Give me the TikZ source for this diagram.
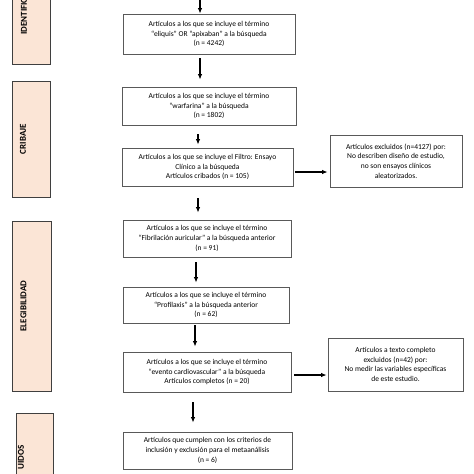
\documentclass[tikz,border=0pt]{standalone}
\usepackage{fontspec}
\setmainfont{Carlito}
\usetikzlibrary{arrows.meta}
\definecolor{phasefill}{HTML}{FBE5D6}
\definecolor{phaseline}{HTML}{3F3F3F}
\definecolor{boxline}{HTML}{595959}
\begin{document}
\begin{tikzpicture}[x=1pt,y=-1pt,
  phase/.style={draw=phaseline,line width=0.9pt,fill=phasefill,inner sep=0pt,anchor=north west},
  phasetext/.style={rotate=90,font=\fontsize{9}{10}\selectfont\bfseries,inner sep=0pt},
  mainbox/.style={draw=boxline,line width=0.8pt,fill=white,align=center,inner sep=0pt,
    font=\fontsize{7.5}{9.6}\selectfont},
  arr/.style={line width=1.3pt,-{Latex[length=5.5pt,width=4.5pt]}}]
\useasboundingbox (0,0) rectangle (474,474);
\clip (0,0) rectangle (474,474);
% phase boxes
\node[phase,minimum width=38pt,minimum height=104pt] (pid) at (12,-40) {};
\node[phasetext,anchor=west] (tid) at (24,35) {IDENTIFIC};
\node[phase,minimum width=38pt,minimum height=116pt] (pcr) at (12,81) {};
\node[phasetext] (tcr) at (23,139) {CRIBAJE};
\node[phase,minimum width=39pt,minimum height=170pt] (pel) at (12,221) {};
\node[phasetext] (tel) at (23.5,306) {ELEGIBILIDAD};
\node[phase,minimum width=37pt,minimum height=90pt] (pin) at (16,413) {};
\node[phasetext,anchor=east] (tin) at (21,445) {UIDOS};
% main boxes
\node[mainbox,minimum width=172pt,minimum height=40pt] (b1) at (209,34)
 {Artículos a los que se incluye el término\\ “eliquis” OR “apixaban” a la búsqueda\\ (n = 4242)};
\node[mainbox,minimum width=174pt,minimum height=38pt] (b2) at (209,106)
 {Artículos a los que se incluye el término\\ “warfarina” a la búsqueda\\ (n = 1802)};
\node[mainbox,minimum width=171pt,minimum height=38pt] (b3) at (207.5,167)
 {Artículos a los que se incluye el Filtro: Ensayo\\ Clínico a la búsqueda\\ Artículos cribados (n = 105)};
\node[mainbox,minimum width=168pt,minimum height=37pt] (b4) at (207,238.5)
 {Artículos a los que se incluye el término\\ “Fibrilación auricular” a la búsqueda anterior\\ (n = 91)};
\node[mainbox,minimum width=166pt,minimum height=36pt] (b5) at (206,305)
 {Artículos a los que se incluye el término\\ “Profilaxis” a la búsqueda anterior\\ (n = 62)};
\node[mainbox,minimum width=168pt,minimum height=40pt] (b6) at (207,372)
 {Artículos a los que se incluye el término\\ “evento cardiovascular” a la búsqueda\\ Artículos completos (n = 20)};
\node[mainbox,minimum width=169pt,minimum height=37pt] (b7) at (207.5,450.5)
 {Artículos que cumplen con los criterios de\\ inclusión y exclusión para el metaanálisis\\ (n = 6)};
\node[mainbox,minimum width=132pt,minimum height=52pt] (e1) at (396,161)
 {Artículos excluidos (n=4127) por:\\ No describen diseño de estudio,\\ no son ensayos clínicos\\ aleatorizados.};
\node[mainbox,minimum width=135pt,minimum height=53pt] (e2) at (395.5,364.5)
 {Artículos a texto completo\\ excluidos (n=42) por:\\ No medir las variables específicas\\ de este estudio.};
% connectors
\coordinate (top) at (200,0);
\draw[arr] (top) -- (top |- b1.north);
\draw[arr,shorten <=4pt,shorten >=7pt] ([xshift=-9pt]b1.south) -- ([xshift=-9pt]b1.south |- b2.north);
\draw[arr,shorten <=9pt,shorten >=3pt] ([xshift=-11pt]b2.south) -- ([xshift=-11pt]b2.south |- b3.north);
\draw[arr,shorten <=12pt,shorten >=7pt] ([xshift=-9.5pt]b3.south) -- ([xshift=-9.5pt]b3.south |- b4.north);
\draw[arr,shorten <=5pt,shorten >=4pt] ([xshift=-11pt]b4.south) -- ([xshift=-11pt]b4.south |- b5.north);
\draw[arr,shorten <=2pt,shorten >=5pt] ([xshift=-11pt]b5.south) -- ([xshift=-11pt]b5.south |- b6.north);
\draw[arr,shorten <=10pt,shorten >=9pt] ([xshift=-14pt]b6.south) -- ([xshift=-14pt]b6.south |- b7.north);
\draw[arr,shorten <=2pt,shorten >=2pt] ([yshift=-5pt]b3.east) -- ([yshift=-5pt]b3.east -| e1.west);
\draw[arr,shorten <=3pt,shorten >=1pt] ([yshift=-3pt]b6.east) -- ([yshift=-3pt]b6.east -| e2.west);
\end{tikzpicture}
\end{document}
